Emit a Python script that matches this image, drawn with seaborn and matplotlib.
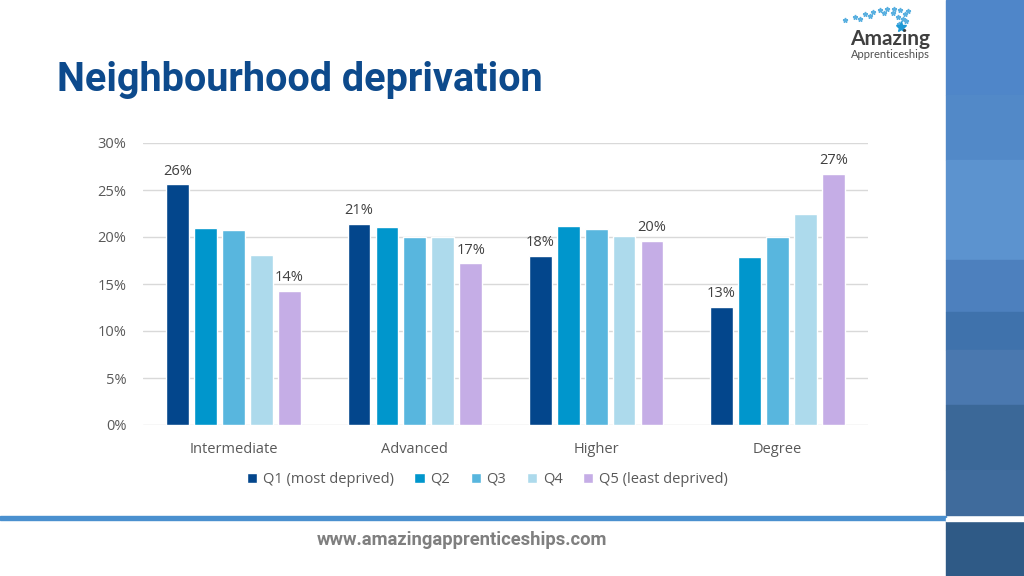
import matplotlib
matplotlib.use("Agg")
import matplotlib.pyplot as plt
import matplotlib.patches as mpatches
from matplotlib.ticker import FuncFormatter
import seaborn as sns
import pandas as pd
import numpy as np

categories = ["Intermediate", "Advanced", "Higher", "Degree"]
series = ["Q1 (most deprived)", "Q2", "Q3", "Q4", "Q5 (least deprived)"]
q1 = [25.6, 21.4, 18.0, 12.6]
q2 = [21.0, 21.1, 21.2, 17.9]
q3 = [20.7, 20.0, 20.8, 20.0]
q4 = [18.1, 20.0, 20.1, 22.5]
q5 = [14.3, 17.2, 19.6, 26.7]
yticks = [0, 5, 10, 15, 20, 25, 30]
colors = ["#03468C", "#0096CC", "#58B6DE", "#ADDAEC", "#C5ADE6"]
labelled = {"Q1 (most deprived)", "Q5 (least deprived)"}

rows = []
for s, vals in zip(series, [q1, q2, q3, q4, q5]):
    for c, v in zip(categories, vals):
        rows.append({"category": c, "series": s, "value": v})
df = pd.DataFrame(rows)

sns.set_theme(style="white")
plt.rcParams["font.family"] = ["Open Sans", "DejaVu Sans"]

fig = plt.figure(figsize=(10.24, 5.76), dpi=100)
fig.patch.set_facecolor("white")
ax = fig.add_axes([143/1024, 1-425/576, 725/1024, 282/576])

sns.barplot(data=df, x="category", y="value", hue="series", order=categories,
            hue_order=series, palette=colors, width=0.77, gap=0.18,
            saturation=1, ax=ax, legend=True)

ax.set_xlim(-0.5, 3.5)
ax.set_ylim(0, 30)
ax.set_yticks(yticks)
ax.yaxis.set_major_formatter(FuncFormatter(lambda v, p: f"{int(v)}%"))
ax.grid(axis="y", color="#D9D9D9", linewidth=1)
ax.set_axisbelow(True)
for sp in ax.spines.values():
    sp.set_visible(False)
ax.tick_params(axis="both", length=0, labelsize=10.5, colors="#595959", pad=12)
ax.tick_params(axis="x", pad=12)
ax.set_xlabel("")
ax.set_ylabel("")

for cont, s in zip(ax.containers, series):
    if s in labelled:
        ax.bar_label(cont, labels=[f"{v:.0f}%" for v in cont.datavalues],
                     padding=4, fontsize=10.5, color="#404040")

h, l = ax.get_legend_handles_labels()
ax.legend(h, l, loc="upper center", bbox_to_anchor=(0.475, -0.12), ncol=5,
          frameon=False, fontsize=10.5, handlelength=0.7, handleheight=0.7,
          handletextpad=0.4, columnspacing=1.4, labelcolor="#595959")

# Title
fig.text(57/1024, 1-80/576, "Neighbourhood deprivation", fontsize=28.5,
         fontweight="bold", color="#0D4A8C", family=["Roboto", "DejaVu Sans"],
         va="center", ha="left")

# Right decorative band
band_colors = [(0, 95, "#4F86C9"), (95, 160, "#5289C8"), (160, 260, "#5C93CF"),
               (260, 312, "#4D80BE"), (312, 350, "#3F72AC"), (350, 405, "#4A78AF"),
               (405, 470, "#3B6898"), (470, 515, "#3F6B9C")]
for y0, y1, c in band_colors:
    fig.patches.append(mpatches.Rectangle((946/1024, 1-y1/576), 78/1024, (y1-y0)/576,
                                          transform=fig.transFigure, color=c, zorder=0))
fig.patches.append(mpatches.Rectangle((946/1024, 0), 78/1024, 55/576,
                                      transform=fig.transFigure, color="#2F5A86", zorder=0))
# Horizontal rule
fig.patches.append(mpatches.Rectangle((0, 1-520/576), 946/1024, 4/576,
                                      transform=fig.transFigure, color="#4A90CF", zorder=1))
fig.patches.append(mpatches.Rectangle((946/1024, 1-521/576), 78/1024, 3/576,
                                      transform=fig.transFigure, color="white", zorder=1))

fig.text(462/1024, 1-540/576, "www.amazingapprenticeships.com", fontsize=13.2,
         fontweight="bold", color="#7F7F7F", ha="center", va="center",
         family=["Roboto", "DejaVu Sans"])

# Logo
fig.text(890/1024, 1-39/576, "Amazing", fontsize=15, fontweight="bold",
         color="#404040", ha="center", va="center", family=["Lato", "DejaVu Sans"])
fig.text(890/1024, 1-55/576, "Apprenticeships", fontsize=8, color="#505050",
         ha="center", va="center", family=["Lato", "DejaVu Sans"])
lx = np.array([845, 855, 865, 873, 880, 887, 894, 900, 905, 903, 899, 860, 870, 884, 893, 898, 906, 908])
ly = np.array([20, 17, 14, 12, 10, 9, 9, 10, 14, 19, 24, 19, 16, 13, 13, 17, 21, 11])
fig.add_artist(plt.Line2D(lx/1024, 1-ly/576, transform=fig.transFigure, marker="*",
                          linestyle="none", markersize=3.5, color="#5AB0E0"))
fig.add_artist(plt.Line2D([901/1024], [1-27/576], transform=fig.transFigure, marker="*",
                          linestyle="none", markersize=8, color="#1E9AD6"))

fig.savefig("out.png", dpi=100, facecolor="white")
